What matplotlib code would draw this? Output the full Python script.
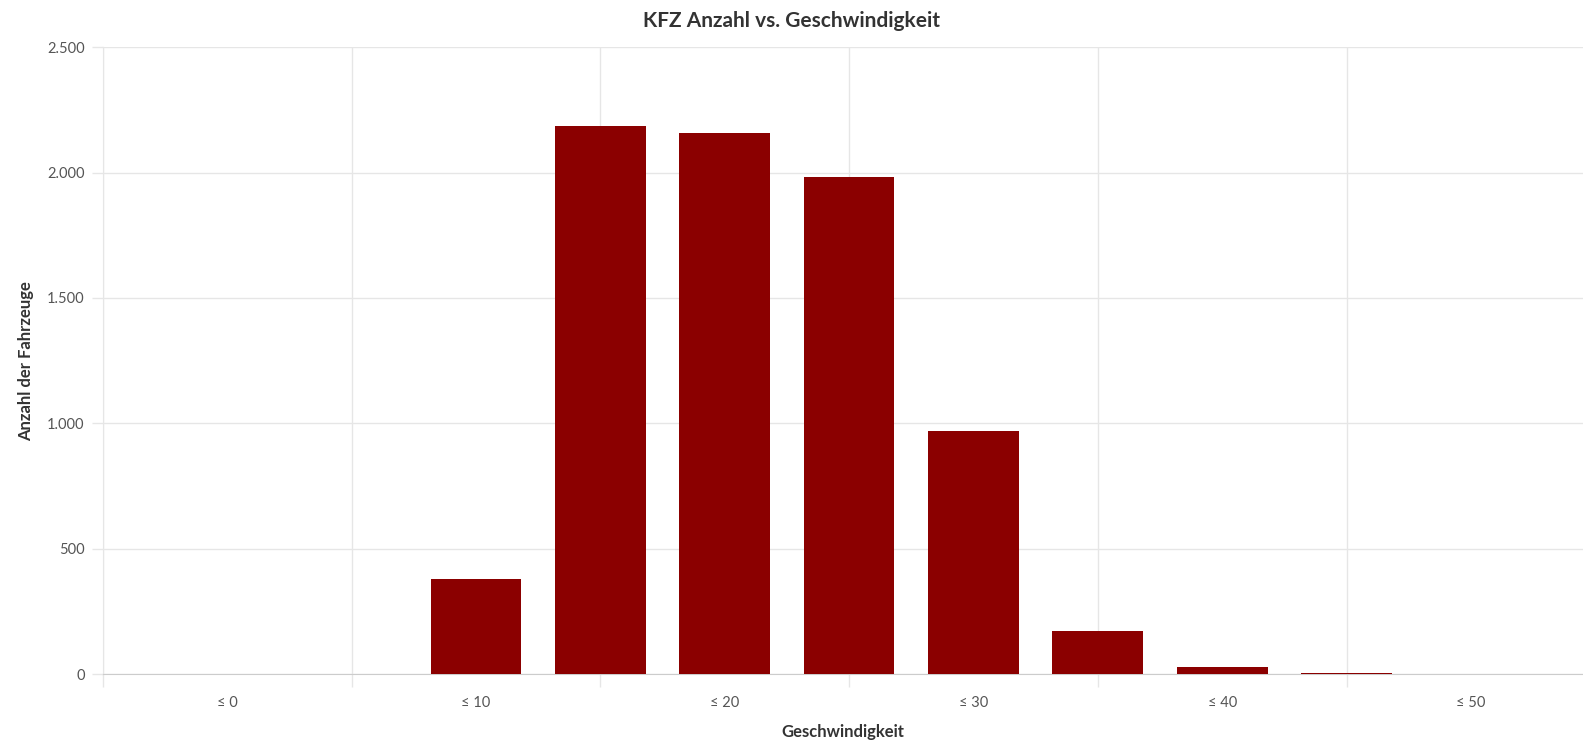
import numpy as np
import matplotlib.pyplot as plt
from matplotlib.ticker import FuncFormatter

plt.rcParams['font.family'] = ['Lato', 'DejaVu Sans']

# Geschwindigkeitsklassen (5 km/h Schritte) und KFZ-Anzahl
categories = ["≤ 0", "≤ 5", "≤ 10", "≤ 15", "≤ 20", "≤ 25",
              "≤ 30", "≤ 35", "≤ 40", "≤ 45", "≤ 50"]
counts = [0, 0, 380, 2185, 2160, 1983, 968, 173, 28, 4, 0]
y_ticks = [0, 500, 1000, 1500, 2000, 2500]

bar_color = "#8b0000"
grid_color = "#e6e6e6"
text_color = "#333333"

fig = plt.figure(figsize=(15.83, 7.41), dpi=100)
ax = fig.add_axes([0.0649, 0.0904, 0.9351, 0.8458])

x = np.arange(len(categories))
ax.bar(x, counts, width=0.73, color=bar_color, zorder=3)

# Achse läuft rechts etwas über den Bildrand hinaus
ax.set_xlim(-1, 10.9)
ax.set_ylim(0, 2500)

# Beschriftung nur jede zweite Klasse, Gitter dazwischen
ax.set_xticks(x[::2])
ax.set_xticklabels(categories[::2])
ax.set_xticks(np.arange(-1, 11, 2), minor=True)
ax.tick_params(axis='x', which='major', length=0, pad=16, labelsize=10.5, labelcolor="#555555")
ax.tick_params(axis='x', which='minor', length=9, width=1, color=grid_color, direction='out')
ax.grid(axis='x', which='minor', color=grid_color, linewidth=1, zorder=0)

ax.set_yticks(y_ticks)
ax.yaxis.set_major_formatter(FuncFormatter(lambda v, p: f"{int(v):,}".replace(",", ".")))
ax.tick_params(axis='y', length=8, width=1, color=grid_color, pad=5, labelsize=10.5, labelcolor="#555555")
ax.grid(axis='y', color=grid_color, linewidth=1, zorder=0)

for side in ['top', 'right']:
    ax.spines[side].set_visible(False)
ax.spines['left'].set_color(grid_color)
ax.spines['bottom'].set_color("#cccccc")

ax.set_xlabel("Geschwindigkeit", fontsize=12, fontweight='bold', color=text_color, labelpad=10)
ax.set_ylabel("Anzahl der Fahrzeuge", fontsize=12, fontweight='bold', color=text_color, labelpad=9.5)
fig.suptitle("KFZ Anzahl vs. Geschwindigkeit", fontsize=15, fontweight='bold', color=text_color, y=0.985)

fig.savefig("out.png", dpi=100)
